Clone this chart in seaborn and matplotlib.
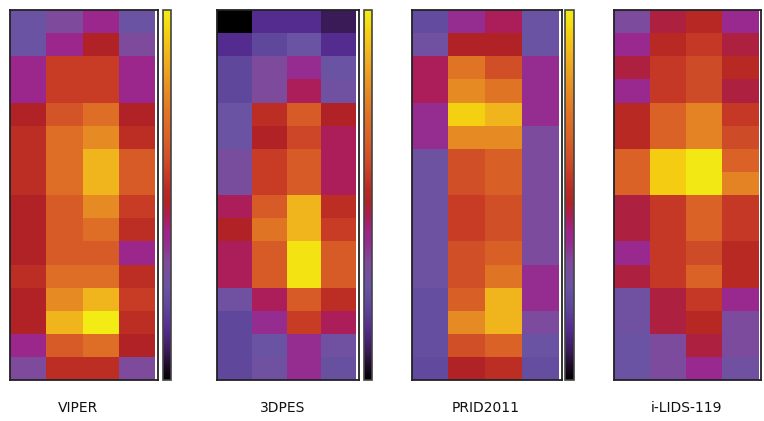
import numpy as np
import pandas as pd
import matplotlib
matplotlib.use("Agg")
import matplotlib.pyplot as plt
from matplotlib.colors import LinearSegmentedColormap
import seaborn as sns

datasets = ["VIPER", "3DPES", "PRID2011", "i-LIDS-119"]

viper = [
    [0.25, 0.32, 0.39, 0.25],
    [0.25, 0.39, 0.48, 0.32],
    [0.39, 0.56, 0.56, 0.39],
    [0.39, 0.56, 0.56, 0.39],
    [0.48, 0.62, 0.70, 0.48],
    [0.52, 0.70, 0.78, 0.52],
    [0.52, 0.70, 0.88, 0.64],
    [0.52, 0.70, 0.88, 0.64],
    [0.48, 0.64, 0.78, 0.56],
    [0.48, 0.64, 0.70, 0.52],
    [0.48, 0.64, 0.64, 0.39],
    [0.52, 0.70, 0.70, 0.52],
    [0.48, 0.78, 0.88, 0.56],
    [0.48, 0.88, 1.00, 0.52],
    [0.39, 0.64, 0.70, 0.48],
    [0.32, 0.52, 0.52, 0.32],
]

dpes = [
    [0.00, 0.14, 0.14, 0.08],
    [0.14, 0.20, 0.25, 0.14],
    [0.20, 0.32, 0.37, 0.25],
    [0.20, 0.32, 0.44, 0.27],
    [0.25, 0.52, 0.64, 0.48],
    [0.25, 0.48, 0.58, 0.44],
    [0.30, 0.56, 0.64, 0.44],
    [0.30, 0.56, 0.64, 0.44],
    [0.44, 0.64, 0.88, 0.52],
    [0.48, 0.72, 0.88, 0.56],
    [0.44, 0.64, 0.98, 0.64],
    [0.44, 0.64, 0.98, 0.64],
    [0.27, 0.44, 0.64, 0.52],
    [0.20, 0.37, 0.56, 0.44],
    [0.20, 0.25, 0.37, 0.27],
    [0.20, 0.27, 0.37, 0.24],
]

prid = [
    [0.22, 0.37, 0.44, 0.25],
    [0.27, 0.48, 0.48, 0.25],
    [0.44, 0.72, 0.60, 0.37],
    [0.44, 0.78, 0.72, 0.37],
    [0.37, 0.94, 0.88, 0.37],
    [0.37, 0.78, 0.78, 0.31],
    [0.26, 0.60, 0.65, 0.31],
    [0.26, 0.60, 0.65, 0.31],
    [0.26, 0.56, 0.60, 0.31],
    [0.26, 0.56, 0.60, 0.31],
    [0.26, 0.60, 0.65, 0.31],
    [0.26, 0.60, 0.72, 0.37],
    [0.23, 0.65, 0.88, 0.37],
    [0.23, 0.78, 0.88, 0.31],
    [0.23, 0.60, 0.66, 0.25],
    [0.21, 0.48, 0.52, 0.23],
]

ilids = [
    [0.31, 0.46, 0.50, 0.38],
    [0.38, 0.51, 0.55, 0.46],
    [0.46, 0.55, 0.59, 0.51],
    [0.38, 0.55, 0.59, 0.46],
    [0.51, 0.66, 0.76, 0.55],
    [0.51, 0.66, 0.76, 0.59],
    [0.66, 0.93, 0.99, 0.66],
    [0.66, 0.93, 0.99, 0.76],
    [0.46, 0.55, 0.66, 0.55],
    [0.46, 0.55, 0.66, 0.55],
    [0.38, 0.55, 0.59, 0.51],
    [0.46, 0.55, 0.66, 0.51],
    [0.27, 0.46, 0.55, 0.38],
    [0.27, 0.46, 0.50, 0.31],
    [0.25, 0.31, 0.46, 0.31],
    [0.25, 0.31, 0.38, 0.27],
]

anchors = [
    (0.00, "#000000"), (0.04, "#1e0c2a"), (0.08, "#3b1c5a"), (0.14, "#552d92"),
    (0.20, "#5f479c"), (0.25, "#6a53a3"), (0.32, "#7f4a9c"), (0.37, "#962c90"),
    (0.40, "#a0248a"), (0.44, "#ab1e58"), (0.48, "#b12225"), (0.52, "#bc2c24"),
    (0.56, "#c83c26"), (0.60, "#d04f27"), (0.66, "#da6226"), (0.72, "#e07325"),
    (0.78, "#e68a24"), (0.88, "#f0b41e"), (0.94, "#f4d010"), (1.00, "#f2ec14"),
]
cmap = LinearSegmentedColormap.from_list("heat", anchors)

sns.set_style("white")
fig = plt.figure(figsize=(7.64, 4.21), dpi=100)

bottom, height = 0.097, 0.879
heat_pos = [(0.013, 0.194), (0.284, 0.186), (0.539, 0.196), (0.8037, 0.193)]
cbar_pos = [(0.2134, 0.0105), (0.4764, 0.0105), (0.7395, 0.0115), None]
label_x = [78, 283, 486, 686]

for data, name, hp, cp, lx in zip([viper, dpes, prid, ilids], datasets, heat_pos, cbar_pos, label_x):
    ax = fig.add_axes([hp[0], bottom, hp[1], height])
    df = pd.DataFrame(np.array(data))
    if cp is not None:
        cax = fig.add_axes([cp[0], bottom, cp[1], height])
        sns.heatmap(df, ax=ax, cmap=cmap, vmin=0, vmax=1, cbar=True, cbar_ax=cax,
                    xticklabels=False, yticklabels=False)
        cax.set_yticks([])
        cax.tick_params(length=0)
        cb = ax.collections[0].colorbar
        cb.outline.set_edgecolor("#444444")
        cb.outline.set_linewidth(1.2)
    else:
        sns.heatmap(df, ax=ax, cmap=cmap, vmin=0, vmax=1, cbar=False,
                    xticklabels=False, yticklabels=False)
    ax.set_xlim(0, 4.08)
    for s in ax.spines.values():
        s.set_visible(True)
        s.set_edgecolor("#222222")
        s.set_linewidth(1.3)
    fig.text(lx / 764, 0.031, name, ha="center", va="center", fontsize=10,
             family="DejaVu Sans", color="#111111")

fig.savefig("out.png", dpi=100)
